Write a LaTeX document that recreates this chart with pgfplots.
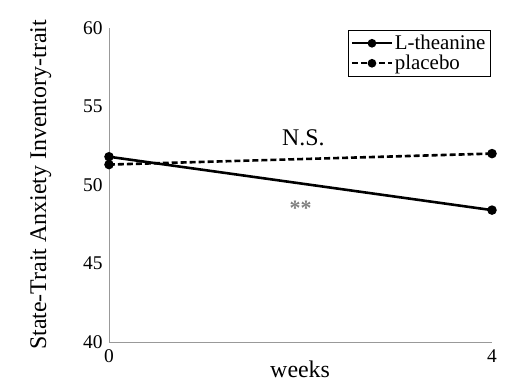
\documentclass[border=0pt]{standalone}
\usepackage{pgfplots}
\pgfplotsset{compat=1.18}
\usepackage{fontspec}
\setmainfont{Liberation Serif}
\begin{document}
\begin{tikzpicture}
\useasboundingbox (-109bp,-44bp) rectangle (419bp,342bp);
\begin{axis}[
  scale only axis,
  width=383bp, height=314bp,
  xmin=0, xmax=4, ymin=40, ymax=60,
  xtick={0,4}, ytick={40,45,50,55,60},
  axis x line*=bottom, axis y line*=left,
  axis line style={draw=gray!80, line width=0.8pt, -},
  major tick length=0pt,
  tick label style={font=\fontsize{19.5}{19.5}\selectfont},
  /pgf/number format/assume math mode=true,
  xticklabel style={yshift=-4pt},
  yticklabel style={xshift=-3pt},
  xlabel={weeks},
  ylabel={State-Trait Anxiety Inventory-trait},
  label style={font=\fontsize{24}{24}\selectfont},
  xlabel style={at={(axis description cs:0.499,-0.1146)}, anchor=base},
  ylabel style={at={(axis description cs:-0.178,0.5)}, anchor=center, rotate=0},
  clip=false,
  legend style={at={(rel axis cs:0.997,0.994)}, anchor=north east,
    draw=black, line width=0.8pt, font=\fontsize{21}{21}\selectfont,
    inner sep=3pt, row sep=0pt},
  legend cell align=left,
  legend image code/.code={%
    \draw[mark repeat=2,mark phase=2,#1,line width=1.8pt]
      plot coordinates {(0bp,0bp) (20bp,0bp) (40bp,0bp)};},
]
\addplot[black, line width=2.6pt, mark=*, mark size=3.4pt, mark options={solid}]
  coordinates {(0,51.8) (4,48.4)};
\addlegendentry{L-theanine}
\addplot[black, line width=2.6pt, dashed, dash pattern=on 6pt off 3pt, mark=*, mark size=3.4pt, mark options={solid}]
  coordinates {(0,51.3) (4,52.0)};
\addlegendentry{placebo}
\node[font=\fontsize{24}{24}\selectfont] at (axis cs:2.03,53.0) {N.S.};
\node[font=\fontsize{22}{22}\selectfont\bfseries, text=gray] at (axis cs:2.0,48.5) {**};
\end{axis}
\end{tikzpicture}
\end{document}
